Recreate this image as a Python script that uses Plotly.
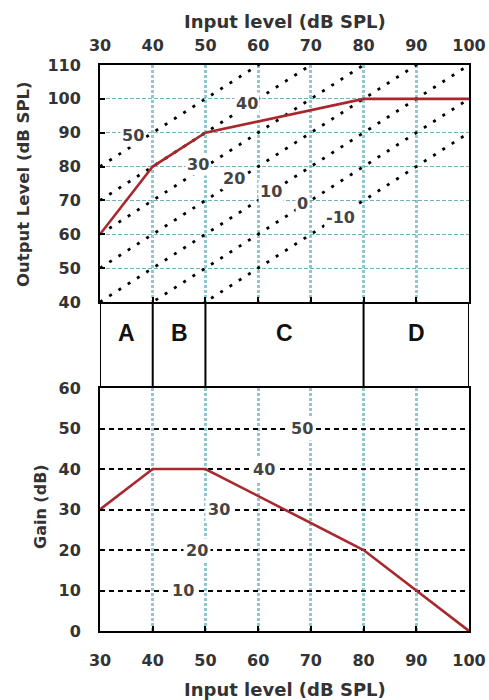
import plotly.graph_objects as go

# ---- data ----
x_ticks = [30, 40, 50, 60, 70, 80, 90, 100]
out_ticks = [40, 50, 60, 70, 80, 90, 100, 110]
gain_ticks = [0, 10, 20, 30, 40, 50, 60]

io_input = [30, 40, 50, 80, 100]
io_output = [60, 80, 90, 100, 100]

gain_input = [30, 40, 50, 80, 100]
gain_values = [30, 40, 40, 20, 0]

gain_lines = [50, 40, 30, 20, 10, 0, -10]
gain_line_label_x = [36.3, 57.8, 48.6, 55.5, 62.5, 68.5, 75.7]
gain_line_label_y = [89.3, 98.7, 80.5, 76.5, 72.6, 69.2, 65.0]

gain_grid = [50, 40, 30, 20, 10]
gain_grid_label_x = [68.4, 61.1, 52.5, 48.4, 45.8]

region_names = ["A", "B", "C", "D"]
region_edges = [30, 40, 50, 80, 100]
region_centers = [35, 45, 65, 90]

# ---- layout constants ----
W, H = 489, 700
def px_x(p):
    return p / W
def px_y(p):
    return 1 - p / H

XDOM = [px_x(100), px_x(469)]
TOP_DOM = [px_y(302), px_y(65)]
BOT_DOM = [px_y(631), px_y(388)]

FONT = "DejaVu Sans"
TXT = "#333333"
TEAL_V = "rgba(110,180,190,0.75)"
TEAL_H = "rgba(80,160,165,0.8)"
RED = "#a8282e"

fig = go.Figure()

# diagonal constant-gain lines (top panel)
for g in gain_lines:
    fig.add_trace(go.Scatter(
        x=[x_ticks[0], x_ticks[-1]], y=[x_ticks[0] + g, x_ticks[-1] + g],
        mode="lines", line=dict(color="black", width=2.8, dash="3px,8px"),
        xaxis="x", yaxis="y", hoverinfo="skip", showlegend=False))

# input/output function
fig.add_trace(go.Scatter(
    x=io_input, y=io_output, mode="lines",
    line=dict(color=RED, width=2.6), xaxis="x", yaxis="y", showlegend=False))

# dummy for top labelled axis
fig.add_trace(go.Scatter(x=[None], y=[None], xaxis="x3", yaxis="y",
                         showlegend=False, hoverinfo="skip"))

# gain function
fig.add_trace(go.Scatter(
    x=gain_input, y=gain_values, mode="lines",
    line=dict(color=RED, width=2.6), xaxis="x2", yaxis="y2", showlegend=False))

axis_common = dict(showline=True, linecolor="black", linewidth=2, mirror=True,
                   ticks="inside", ticklen=5, tickwidth=2, tickcolor="black",
                   tickfont=dict(family=FONT, size=16, color=TXT, weight="bold"),
                   zeroline=False, fixedrange=True, automargin=False)

fig.update_layout(
    width=W, height=H, margin=dict(l=0, r=0, t=0, b=0, autoexpand=False),
    paper_bgcolor="white", plot_bgcolor="white", showlegend=False,
    xaxis=dict(axis_common, domain=XDOM, anchor="y", range=[30, 100],
               tickvals=x_ticks, showticklabels=False,
               showgrid=True, gridcolor=TEAL_V, gridwidth=2.5, griddash="3px,2px"),
    xaxis3=dict(domain=XDOM, anchor="y", overlaying="x", side="top",
                range=[30, 100], tickvals=x_ticks, ticks="", showgrid=False,
                showline=False, zeroline=False, ticklabelstandoff=10,
                automargin=False, fixedrange=True,
                tickfont=dict(family=FONT, size=16, color=TXT, weight="bold")),
    yaxis=dict(axis_common, domain=TOP_DOM, anchor="x", range=[40, 110],
               tickvals=out_ticks, ticklabelstandoff=14,
               showgrid=True, gridcolor=TEAL_H, gridwidth=1.3, griddash="4px,2px"),
    xaxis2=dict(axis_common, domain=XDOM, anchor="y2", range=[30, 100],
                tickvals=x_ticks, ticklabelstandoff=14,
                showgrid=True, gridcolor=TEAL_V, gridwidth=2.5, griddash="3px,2px"),
    yaxis2=dict(axis_common, domain=BOT_DOM, anchor="x2", range=[0, 60],
                tickvals=gain_ticks, ticklabelstandoff=14,
                showgrid=True, gridcolor="black", gridwidth=2.2, griddash="5px,4px"),
)

C = dict(xanchor="center", yanchor="middle", showarrow=False)
ann = []
for g, gx, gy in zip(gain_lines, gain_line_label_x, gain_line_label_y):
    ann.append(dict(C, x=gx, y=gy, xref="x", yref="y", text=str(g),
                    font=dict(family=FONT, size=16, color="#444444", weight="bold"),
                    bgcolor="white", borderpad=1))
for g, gx in zip(gain_grid, gain_grid_label_x):
    ann.append(dict(C, x=gx, y=g, xref="x2", yref="y2", text=str(g),
                    font=dict(family=FONT, size=16, color="#444444", weight="bold"),
                    bgcolor="white", borderpad=2))
for name, cx in zip(region_names, region_centers):
    ann.append(dict(C, x=cx, y=px_y(333), xref="x", yref="paper", text=name,
                    font=dict(family="Liberation Sans", size=23, color="#111111", weight="bold")))
# axis titles
ann.append(dict(C, x=px_x(284.5), y=px_y(21), xref="paper", yref="paper",
                text="Input level (dB SPL)",
                font=dict(family=FONT, size=18, color=TXT, weight="bold")))
ann.append(dict(C, x=px_x(284.5), y=px_y(689), xref="paper", yref="paper",
                text="Input level (dB SPL)",
                font=dict(family=FONT, size=18, color=TXT, weight="bold")))
ann.append(dict(C, x=px_x(23), y=px_y(184), xref="paper", yref="paper",
                text="Output Level (dB SPL)", textangle=-90,
                font=dict(family=FONT, size=16.5, color=TXT, weight="bold")))
ann.append(dict(C, x=px_x(40), y=px_y(507), xref="paper", yref="paper",
                text="Gain (dB)", textangle=-90,
                font=dict(family=FONT, size=16, color=TXT, weight="bold")))
fig.update_layout(annotations=ann)

shapes = []
for e in region_edges:
    shapes.append(dict(type="line", xref="x", yref="paper", x0=e, x1=e,
                       y0=px_y(388), y1=px_y(302),
                       line=dict(color="black", width=2)))
fig.update_layout(shapes=shapes)

fig.write_html("out.html", config={"displayModeBar": False},
               post_script="document.body.style.margin='0';document.body.style.overflow='hidden';")
